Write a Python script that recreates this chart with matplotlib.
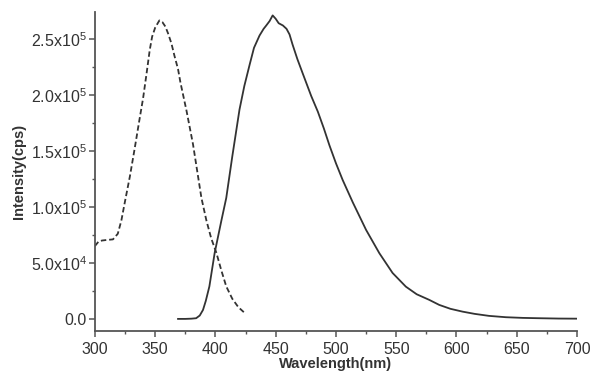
import matplotlib
matplotlib.use("Agg")
import matplotlib.pyplot as plt
from matplotlib.ticker import MultipleLocator, FixedLocator

plt.rcParams['font.family'] = ['Liberation Sans', 'DejaVu Sans']
plt.rcParams['mathtext.fontset'] = 'custom'
plt.rcParams['mathtext.rm'] = 'Liberation Sans'

# excitation spectrum (dashed)
ex_wl = [300, 303, 306, 310, 315, 319, 322, 325, 329, 333, 337, 340, 343, 345.5,
         347.5, 350, 353.5, 356, 358.5, 360.7, 363.5, 366, 369, 371, 376, 381.4,
         388.4, 392.5, 396.5, 400.8, 405, 409, 414, 419, 424]
ex_int = [6.5e4, 6.9e4, 7.0e4, 7.05e4, 7.1e4, 7.6e4, 8.8e4, 1.05e5, 1.27e5, 1.52e5,
          1.78e5, 1.97e5, 2.2e5, 2.4e5, 2.52e5, 2.6e5, 2.665e5, 2.65e5, 2.61e5,
          2.55e5, 2.46e5, 2.35e5, 2.23e5, 2.11e5, 1.86e5, 1.56e5, 1.08e5, 8.8e4,
          7.2e4, 5.9e4, 4.3e4, 2.9e4, 1.8e4, 1.05e4, 5.6e3]

# emission spectrum (solid)
em_wl = [369, 375, 380, 384, 387, 389.7, 392, 395, 399.4, 405, 409, 414, 420, 424,
         428.4, 432, 436.6, 440, 442.2, 445, 447.5, 450, 452.5, 456, 459, 461.5,
         464, 468, 472.5, 479.5, 485, 490, 494.6, 500, 505.6, 514, 525, 536,
         547, 558, 567, 577.4, 585.7, 595, 605, 615, 627, 641, 655, 668.5, 685, 700]
em_int = [0, 0, 200, 600, 3e3, 8e3, 1.6e4, 2.9e4, 5.9e4, 8.8e4, 1.08e5, 1.45e5,
          1.87e5, 2.08e5, 2.27e5, 2.42e5, 2.53e5, 2.59e5, 2.62e5, 2.66e5, 2.71e5,
          2.68e5, 2.64e5, 2.62e5, 2.59e5, 2.54e5, 2.45e5, 2.32e5, 2.19e5, 1.99e5,
          1.85e5, 1.7e5, 1.55e5, 1.39e5, 1.24e5, 1.04e5, 7.95e4, 5.87e4, 4.1e4,
          2.88e4, 2.2e4, 1.7e4, 1.25e4, 9e3, 6.5e3, 4.5e3, 2.7e3, 1.5e3, 900, 600, 300, 200]

y_ticks = [0, 5e4, 1e5, 1.5e5, 2e5, 2.5e5]
y_labels = ['0.0', r'5.0x10$^4$', r'1.0x10$^5$', r'1.5x10$^5$', r'2.0x10$^5$', r'2.5x10$^5$']
x_ticks = [300, 350, 400, 450, 500, 550, 600, 650, 700]

fig = plt.figure(figsize=(5.93, 3.76), dpi=100)
ax = fig.add_axes([0.160, 0.12, 0.813, 0.848])

line_col = '#333333'
ax.plot(ex_wl, ex_int, color=line_col, lw=1.3, linestyle=(0, (3, 1.6)))
ax.plot(em_wl, em_int, color=line_col, lw=1.3)

ax.set_xlim(300, 700)
ax.set_ylim(-1.07e4, 2.74e5)

ax.xaxis.set_major_locator(FixedLocator(x_ticks))
ax.xaxis.set_minor_locator(MultipleLocator(25))
ax.yaxis.set_major_locator(FixedLocator(y_ticks))
ax.set_yticklabels(y_labels)
ax.yaxis.set_minor_locator(MultipleLocator(2.5e4))

for s in ['top', 'right']:
    ax.spines[s].set_visible(False)
for s in ['left', 'bottom']:
    ax.spines[s].set_color('#555555')
    ax.spines[s].set_linewidth(1.3)

ax.tick_params(which='major', direction='out', length=4, width=1.1,
               color='#555555', labelsize=11.5, labelcolor='#333333', pad=2)
ax.tick_params(axis='x', which='major', pad=4)
ax.tick_params(which='minor', direction='out', length=2.5, width=1.0, color='#555555')

ax.set_xlabel('Wavelength(nm)', fontsize=10.5, fontweight='bold', color='#333333', labelpad=0)
ax.set_ylabel('Intensity(cps)', fontsize=10.5, fontweight='bold', color='#333333', labelpad=3)

fig.savefig('out.png', dpi=100)
